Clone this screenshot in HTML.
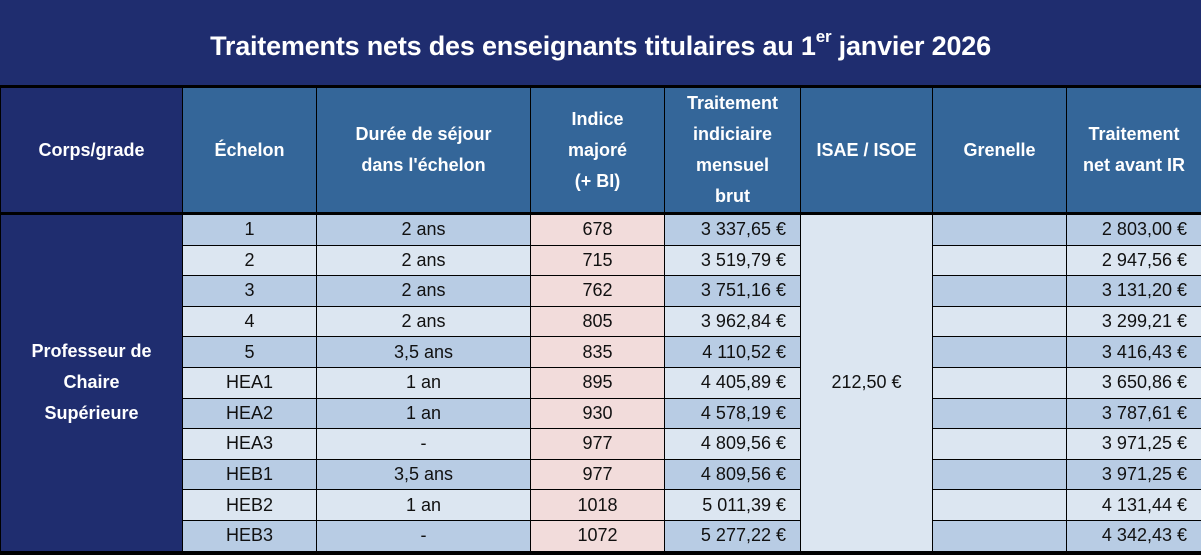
<!DOCTYPE html>
<html><head><meta charset="utf-8"><style>
body{margin:0;width:1201px;height:555px;overflow:hidden;background:#000;font-family:"Liberation Sans",sans-serif;}
.t{position:absolute;left:0;top:0;width:1201px;height:85px;background:#1f2d6f;color:#fff;font-weight:bold;font-size:27px;text-align:center;line-height:92px;letter-spacing:-0.2px}
.t sup{font-size:17px;line-height:0;vertical-align:13px}
table{position:absolute;left:0;top:85px;border-collapse:collapse;table-layout:fixed;width:1201px}
td{border:1.5px solid #000;padding:0;text-align:center;font-size:18px;color:#111;height:29.6px;overflow:hidden;white-space:nowrap}
th{border:1.5px solid #000;border-top:3px solid #000;border-bottom:3px solid #000;background:#346699;color:#fff;font-size:18px;font-weight:bold;height:121px;line-height:31px;padding:0}
th.c{background:#1f2d6f}
td.c{background:#1f2d6f;color:#fff;font-weight:bold;line-height:31px;white-space:normal}
.a{background:#b8cce4}.b{background:#dce6f1}.p{background:#f2dcdb}
.r{text-align:right;padding-right:14px}
</style></head><body>
<div class="t">Traitements nets des enseignants titulaires au 1<sup>er</sup> janvier 2026</div>
<table>
<colgroup><col style="width:182px"><col style="width:134px"><col style="width:214px"><col style="width:134px"><col style="width:136px"><col style="width:132px"><col style="width:134px"><col style="width:135px"></colgroup>
<tr><th class="c">Corps/grade</th><th>Échelon</th><th>Durée de séjour<br>dans l'échelon</th><th>Indice<br>majoré<br>(+ BI)</th><th>Traitement<br>indiciaire<br>mensuel<br>brut</th><th>ISAE / ISOE</th><th>Grenelle</th><th>Traitement<br>net avant IR</th></tr>
<tr><td class="c" rowspan="11">Professeur de<br>Chaire<br>Supérieure</td><td class="a">1</td><td class="a">2 ans</td><td class="p">678</td><td class="a r">3 337,65 €</td><td class="b" rowspan="11">212,50 €</td><td class="a"></td><td class="a r">2 803,00 €</td></tr>
<tr><td class="b">2</td><td class="b">2 ans</td><td class="p">715</td><td class="b r">3 519,79 €</td><td class="b"></td><td class="b r">2 947,56 €</td></tr>
<tr><td class="a">3</td><td class="a">2 ans</td><td class="p">762</td><td class="a r">3 751,16 €</td><td class="a"></td><td class="a r">3 131,20 €</td></tr>
<tr><td class="b">4</td><td class="b">2 ans</td><td class="p">805</td><td class="b r">3 962,84 €</td><td class="b"></td><td class="b r">3 299,21 €</td></tr>
<tr><td class="a">5</td><td class="a">3,5 ans</td><td class="p">835</td><td class="a r">4 110,52 €</td><td class="a"></td><td class="a r">3 416,43 €</td></tr>
<tr><td class="b">HEA1</td><td class="b">1 an</td><td class="p">895</td><td class="b r">4 405,89 €</td><td class="b"></td><td class="b r">3 650,86 €</td></tr>
<tr><td class="a">HEA2</td><td class="a">1 an</td><td class="p">930</td><td class="a r">4 578,19 €</td><td class="a"></td><td class="a r">3 787,61 €</td></tr>
<tr><td class="b">HEA3</td><td class="b">-</td><td class="p">977</td><td class="b r">4 809,56 €</td><td class="b"></td><td class="b r">3 971,25 €</td></tr>
<tr><td class="a">HEB1</td><td class="a">3,5 ans</td><td class="p">977</td><td class="a r">4 809,56 €</td><td class="a"></td><td class="a r">3 971,25 €</td></tr>
<tr><td class="b">HEB2</td><td class="b">1 an</td><td class="p">1018</td><td class="b r">5 011,39 €</td><td class="b"></td><td class="b r">4 131,44 €</td></tr>
<tr><td class="a">HEB3</td><td class="a">-</td><td class="p">1072</td><td class="a r">5 277,22 €</td><td class="a"></td><td class="a r">4 342,43 €</td></tr>
</table>
</body></html>
